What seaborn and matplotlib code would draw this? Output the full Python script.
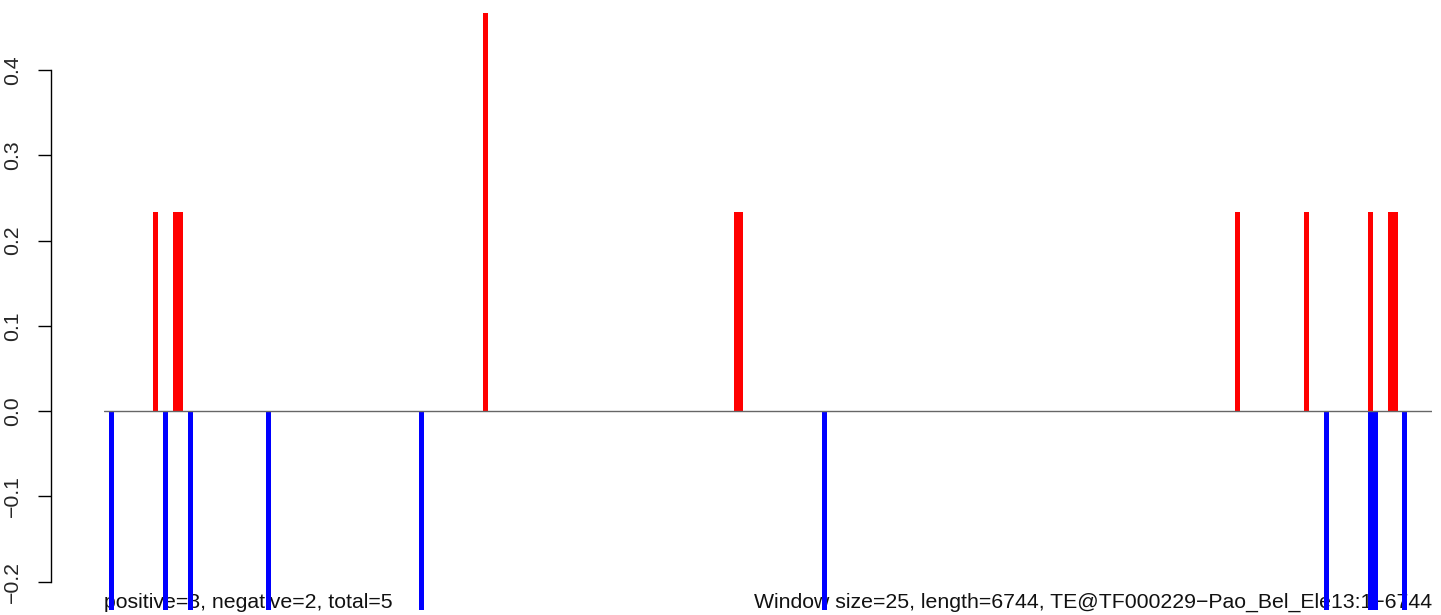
import matplotlib
matplotlib.use("Agg")
import matplotlib.pyplot as plt
import seaborn as sns
import pandas as pd

# windows of 25 bp along a 6744 bp element
n_windows = 270
pos_windows = [10, 14, 15, 77, 128, 129, 230, 244, 257, 261, 262]
pos_values = [0.2333, 0.2333, 0.2333, 0.4667, 0.2333, 0.2333, 0.2333, 0.2333, 0.2333, 0.2333, 0.2333]
neg_windows = [1, 12, 17, 33, 64, 146, 248, 257, 258, 264]
neg_values = [-0.2333, -0.2333, -0.2333, -0.2333, -0.2333, -0.2333, -0.2333, -0.2333, -0.2333, -0.2333]
y_ticks = [-0.2, -0.1, 0.0, 0.1, 0.2, 0.3, 0.4]
left_note = "positive=3, negative=2, total=5"
right_note = "Window size=25, length=6744, TE@TF000229\u2212Pao_Bel_Ele13:1\u22126744"

pos = pd.DataFrame({"window": [w + 0.5 for w in pos_windows], "value": pos_values})
neg = pd.DataFrame({"window": [w + 0.5 for w in neg_windows], "value": neg_values})

sns.set_style("white")
plt.rcParams["font.family"] = ["Liberation Sans", "DejaVu Sans"]

fig = plt.figure(figsize=(14.41, 6.15), dpi=100)
ax = fig.add_axes([104 / 1441, 5 / 615, 1328 / 1441, 597 / 615])

sns.barplot(data=pos, x="window", y="value", native_scale=True, width=1,
            color="#ff0000", saturation=1, errorbar=None, linewidth=0, ax=ax)
sns.barplot(data=neg, x="window", y="value", native_scale=True, width=1,
            color="#0000ff", saturation=1, errorbar=None, linewidth=0, ax=ax)
ax.axhline(0, color="#666666", lw=1, zorder=3)

ax.set_xlim(0, n_windows)
ax.set_ylim(-0.2334, 0.4669)
ax.set_xlabel("")
ax.set_ylabel("")
ax.set_xticks([])

for s in ["top", "right", "bottom"]:
    ax.spines[s].set_visible(False)
ax.spines["left"].set_position(("outward", 38.4))
ax.spines["left"].set_bounds(-0.2, 0.4)
ax.spines["left"].set_color("black")
ax.spines["left"].set_linewidth(1)
ax.set_yticks(y_ticks)
ax.set_yticklabels([f"{t:.1f}".replace("-", "\u2212") for t in y_ticks],
                   rotation=90, va="center", fontsize=15.3)
ax.tick_params(axis="y", left=True, length=9.5, width=1, color="black", pad=11)
ax.patch.set_alpha(0)

ax.text(0, 0.004, left_note, transform=ax.transAxes, ha="left", va="baseline",
        fontsize=15.3, color="#111111", zorder=0.5)
ax.text(1, 0.004, right_note, transform=ax.transAxes, ha="right", va="baseline",
        fontsize=15.3, color="#111111", zorder=0.5)

fig.savefig("out.png", dpi=100)
